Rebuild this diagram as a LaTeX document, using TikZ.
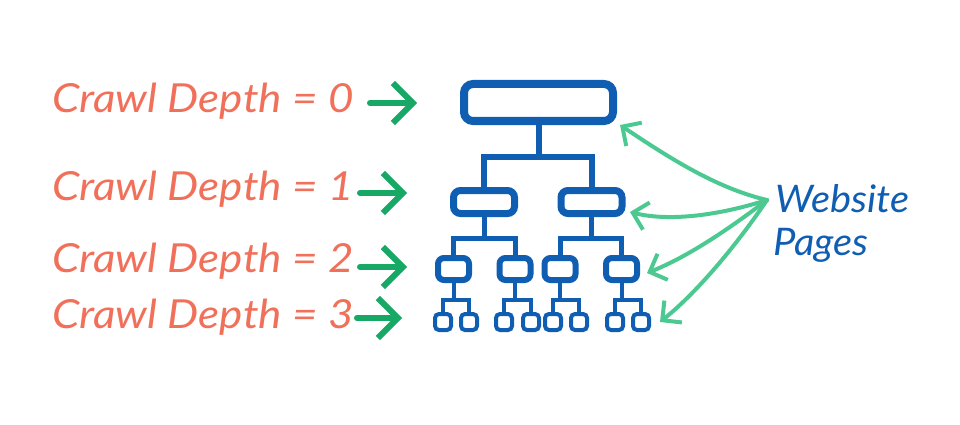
\documentclass[tikz,border=0pt]{standalone}
\usepackage{fontspec}
\setmainfont{Lato}
\usetikzlibrary{arrows.meta}
\definecolor{tblue}{RGB}{16,94,178}
\definecolor{salmon}{RGB}{240,112,90}
\definecolor{dgreen}{RGB}{22,168,100}
\definecolor{mgreen}{RGB}{76,200,145}
\begin{document}
\begin{tikzpicture}[x=1pt,y=-1pt,
  lbl/.style={anchor=base west, inner sep=0pt, xscale=1.1, text=salmon, font=\fontsize{40}{42}\selectfont\itshape},
  rlbl/.style={anchor=base west, inner sep=0pt, xscale=1.05, text=tblue, font=\fontsize{38}{40}\selectfont\itshape},
  larrow/.style={draw=dgreen, line width=6pt, line cap=round, -{Straight Barb[length=20pt,width=40pt]}},
  rarrow/.style={draw=mgreen, line width=4pt, line cap=round, -{Straight Barb[length=14pt,width=28pt]}},
  b0/.style={draw=tblue, line width=8pt, rounded corners=9pt, minimum width=149pt, minimum height=37pt, inner sep=0pt},
  b1/.style={draw=tblue, line width=7pt, rounded corners=7pt, minimum width=61pt, minimum height=23pt, inner sep=0pt},
  b2/.style={draw=tblue, line width=6pt, rounded corners=6pt, minimum width=31pt, minimum height=22pt, inner sep=0pt},
  b3/.style={draw=tblue, line width=4pt, rounded corners=4pt, minimum width=16pt, minimum height=16pt, inner sep=0pt},
  conn0/.style={draw=tblue, line width=6pt},
  conn1/.style={draw=tblue, line width=5pt},
  conn2/.style={draw=tblue, line width=4pt},
]
\useasboundingbox (0,0) rectangle (960,425);
% labels
\node[lbl] (d0) at (52,113) {Crawl Depth = 0};
\node[lbl] (d1) at (52,200) {Crawl Depth = 1};
\node[lbl] (d2) at (52,272) {Crawl Depth = 2};
\node[lbl] (d3) at (52,328) {Crawl Depth = 3};
\coordinate (a0s) at (370,103); \coordinate (a0e) at (417,103);
\coordinate (a1s) at (360,193); \coordinate (a1e) at (407,193);
\coordinate (a2s) at (360,267); \coordinate (a2e) at (407,267);
\coordinate (a3s) at (357,318); \coordinate (a3e) at (402,318);
\draw[larrow] (a0s) -- (a0e);
\draw[larrow] (a1s) -- (a1e);
\draw[larrow] (a2s) -- (a2e);
\draw[larrow] (a3s) -- (a3e);
% tree
\node[b0] (r) at (538.5,102.5) {};
\node[b1] (l1a) at (484,202) {};
\node[b1] (l1b) at (591.5,202) {};
\node[b2] (l2a) at (453.5,269) {};
\node[b2] (l2b) at (515,269) {};
\node[b2] (l2c) at (560,269) {};
\node[b2] (l2d) at (621.5,269) {};
\node[b3] (l3a) at (443,322) {};
\node[b3] (l3b) at (469,322) {};
\node[b3] (l3c) at (504,322) {};
\node[b3] (l3d) at (531,322) {};
\node[b3] (l3e) at (553,322) {};
\node[b3] (l3f) at (579,322) {};
\node[b3] (l3g) at (615,322) {};
\node[b3] (l3h) at (641,322) {};
\coordinate (j0) at (r.south |- 0,157);
\coordinate (j1a) at (l1a.south |- 0,238);
\coordinate (j1b) at (l1b.south |- 0,238);
\coordinate (j2a) at (l2a.south |- 0,300);
\coordinate (j2b) at (l2b.south |- 0,300);
\coordinate (j2c) at (l2c.south |- 0,300);
\coordinate (j2d) at (l2d.south |- 0,300);
\draw[conn0] (r.south) -- (j0);
\draw[conn0] (l1a.north) |- (j0) -| (l1b.north);
\draw[conn1] (l1a.south) -- (j1a);
\draw[conn1] (l2a.north) |- (j1a) -| (l2b.north);
\draw[conn1] (l1b.south) -- (j1b);
\draw[conn1] (l2c.north) |- (j1b) -| (l2d.north);
\draw[conn2] (l2a.south) -- (j2a);
\draw[conn2] (l3a.north) |- (j2a) -| (l3b.north);
\draw[conn2] (l2b.south) -- (j2b);
\draw[conn2] (l3c.north) |- (j2b) -| (l3d.north);
\draw[conn2] (l2c.south) -- (j2c);
\draw[conn2] (l3e.north) |- (j2c) -| (l3f.north);
\draw[conn2] (l2d.south) -- (j2d);
\draw[conn2] (l3g.north) |- (j2d) -| (l3h.north);
% right side
\node[rlbl] (web) at (775,212) {Website};
\node[rlbl] (pag) at (773,255) {Pages};
\coordinate (hub) at (767,200);
\coordinate (t0) at (620,125);
\coordinate (t1) at (630,212);
\coordinate (t2) at (647,273);
\coordinate (t3) at (660,322);
\draw[rarrow] (hub) .. controls (715,188) and (665,155) .. (t0);
\draw[rarrow] (hub) .. controls (720,215) and (670,222) .. (t1);
\draw[rarrow] (hub) .. controls (725,232) and (685,258) .. (t2);
\draw[rarrow] (hub) .. controls (740,240) and (700,290) .. (t3);
\end{tikzpicture}
\end{document}
